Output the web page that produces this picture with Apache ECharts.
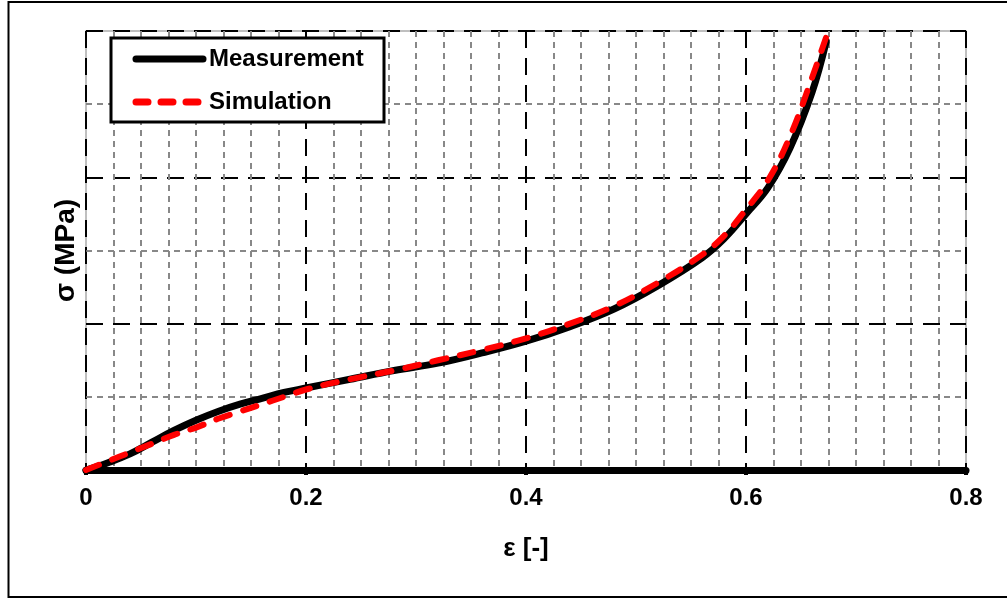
<!DOCTYPE html>
<html>
<head>
<meta charset="utf-8">
<script src="https://cdn.jsdelivr.net/npm/echarts@6/dist/echarts.min.js"></script>
<style>
html,body{margin:0;padding:0;background:#fff;}
#c{width:1007px;height:602px;}
</style>
</head>
<body>
<div id="c"></div>
<script>
// strain values and stress (arbitrary units, y axis unlabeled)
const measurementStrain = [0,0.02,0.04,0.06,0.08,0.10,0.12,0.14,0.16,0.18,0.20,0.24,0.28,0.32,0.36,0.40,0.44,0.48,0.52,0.56,0.58,0.60,0.62,0.64,0.66,0.673];
const measurementStress = [0,0.05,0.11,0.19,0.27,0.34,0.40,0.45,0.49,0.53,0.56,0.62,0.68,0.73,0.80,0.88,0.98,1.10,1.26,1.45,1.58,1.75,1.93,2.20,2.58,2.93];
const simulationStrain = [0,0.02,0.04,0.06,0.08,0.10,0.12,0.14,0.16,0.18,0.20,0.24,0.28,0.32,0.36,0.40,0.44,0.48,0.52,0.56,0.58,0.60,0.62,0.64,0.66,0.677];
const simulationStress = [0,0.06,0.12,0.18,0.24,0.29,0.35,0.40,0.45,0.50,0.55,0.62,0.68,0.75,0.82,0.90,1.00,1.12,1.28,1.47,1.60,1.78,1.98,2.28,2.68,3.05];
const xTickLabels = ['0','0.2','0.4','0.6','0.8'];
const seriesNames = ['Measurement','Simulation'];

const pair = (xs, ys) => xs.map((x, i) => [x, ys[i]]);
const chart = echarts.init(document.getElementById('c'));
const font = '"Liberation Sans", Arial, sans-serif';
const dashMain = [17, 10];
const dashMinor = [6, 5];
const simDash = [14, 14];

chart.setOption({
  animation: false,
  backgroundColor: '#fff',
  graphic: [
    {type: 'rect', shape: {x: 8.5, y: 2, width: 1010, height: 595},
     style: {fill: 'none', stroke: '#000', lineWidth: 2}, silent: true, z: -1},
    // legend box
    {type: 'rect', shape: {x: 111, y: 38, width: 273, height: 84},
     style: {fill: '#fff', stroke: '#000', lineWidth: 3}, z: 100},
    {type: 'line', shape: {x1: 136, y1: 59, x2: 203, y2: 59},
     style: {stroke: '#000', lineWidth: 7, lineCap: 'round'}, z: 101},
    {type: 'line', shape: {x1: 136, y1: 102, x2: 203, y2: 102},
     style: {stroke: '#ff0000', lineWidth: 7, lineCap: 'round', lineDash: [12, 13]}, z: 101},
    {type: 'text', x: 209, y: 59, z: 101,
     style: {text: seriesNames[0], font: 'bold 24px ' + font, fill: '#000', verticalAlign: 'middle'}},
    {type: 'text', x: 209, y: 102, z: 101,
     style: {text: seriesNames[1], font: 'bold 24px ' + font, fill: '#000', verticalAlign: 'middle'}}
  ],
  grid: {left: 86, right: 41, top: 31, bottom: 132, show: true, borderColor: '#aaa', borderWidth: 1.5},
  xAxis: {
    type: 'value', min: 0, max: 0.8, interval: 0.2,
    axisLine: {show: true, onZero: false, lineStyle: {color: '#000', width: 7}},
    axisTick: {show: true, length: 5, lineStyle: {color: '#000', width: 4}},
    minorTick: {show: true, splitNumber: 8, length: 0},
    axisLabel: {
      margin: 16, fontFamily: font, fontWeight: 'bold', fontSize: 24, color: '#000',
      formatter: (v) => xTickLabels[Math.round(v / 0.2)] ?? ''
    },
    splitLine: {show: true, lineStyle: {color: '#000', width: 2, type: dashMain}},
    minorSplitLine: {show: true, lineStyle: {color: '#888', width: 2, type: dashMinor}},
    name: 'ε [-]', nameLocation: 'middle', nameGap: 66,
    nameTextStyle: {fontFamily: font, fontWeight: 'bold', fontSize: 26, color: '#000'}
  },
  yAxis: {
    type: 'value', min: 0, max: 3, interval: 1,
    axisLine: {show: false},
    axisTick: {show: true, inside: true, length: 6, lineStyle: {color: '#000', width: 2}},
    axisLabel: {show: false},
    minorTick: {show: true, splitNumber: 2, length: 5, lineStyle: {color: '#888', width: 1.5}},
    splitLine: {show: true, lineStyle: {color: '#000', width: 2, type: dashMain}},
    minorSplitLine: {show: true, lineStyle: {color: '#888', width: 2, type: dashMinor}},
    name: 'σ (MPa)', nameLocation: 'middle', nameGap: 6, nameRotate: 90,
    nameTextStyle: {fontFamily: font, fontWeight: 'bold', fontSize: 28, color: '#000'}
  },
  series: [
    {
      name: seriesNames[0], type: 'line', smooth: 0.4, symbol: 'none',
      data: pair(measurementStrain, measurementStress),
      lineStyle: {color: '#000', width: 7, cap: 'round'},
      itemStyle: {color: '#000'}, z: 3
    },
    {
      name: seriesNames[1], type: 'line', smooth: 0.4, symbol: 'none',
      data: pair(simulationStrain, simulationStress),
      lineStyle: {color: '#ff0000', width: 6, type: simDash, cap: 'round'},
      itemStyle: {color: '#ff0000'}, z: 4
    }
  ]
});
</script>
</body>
</html>
